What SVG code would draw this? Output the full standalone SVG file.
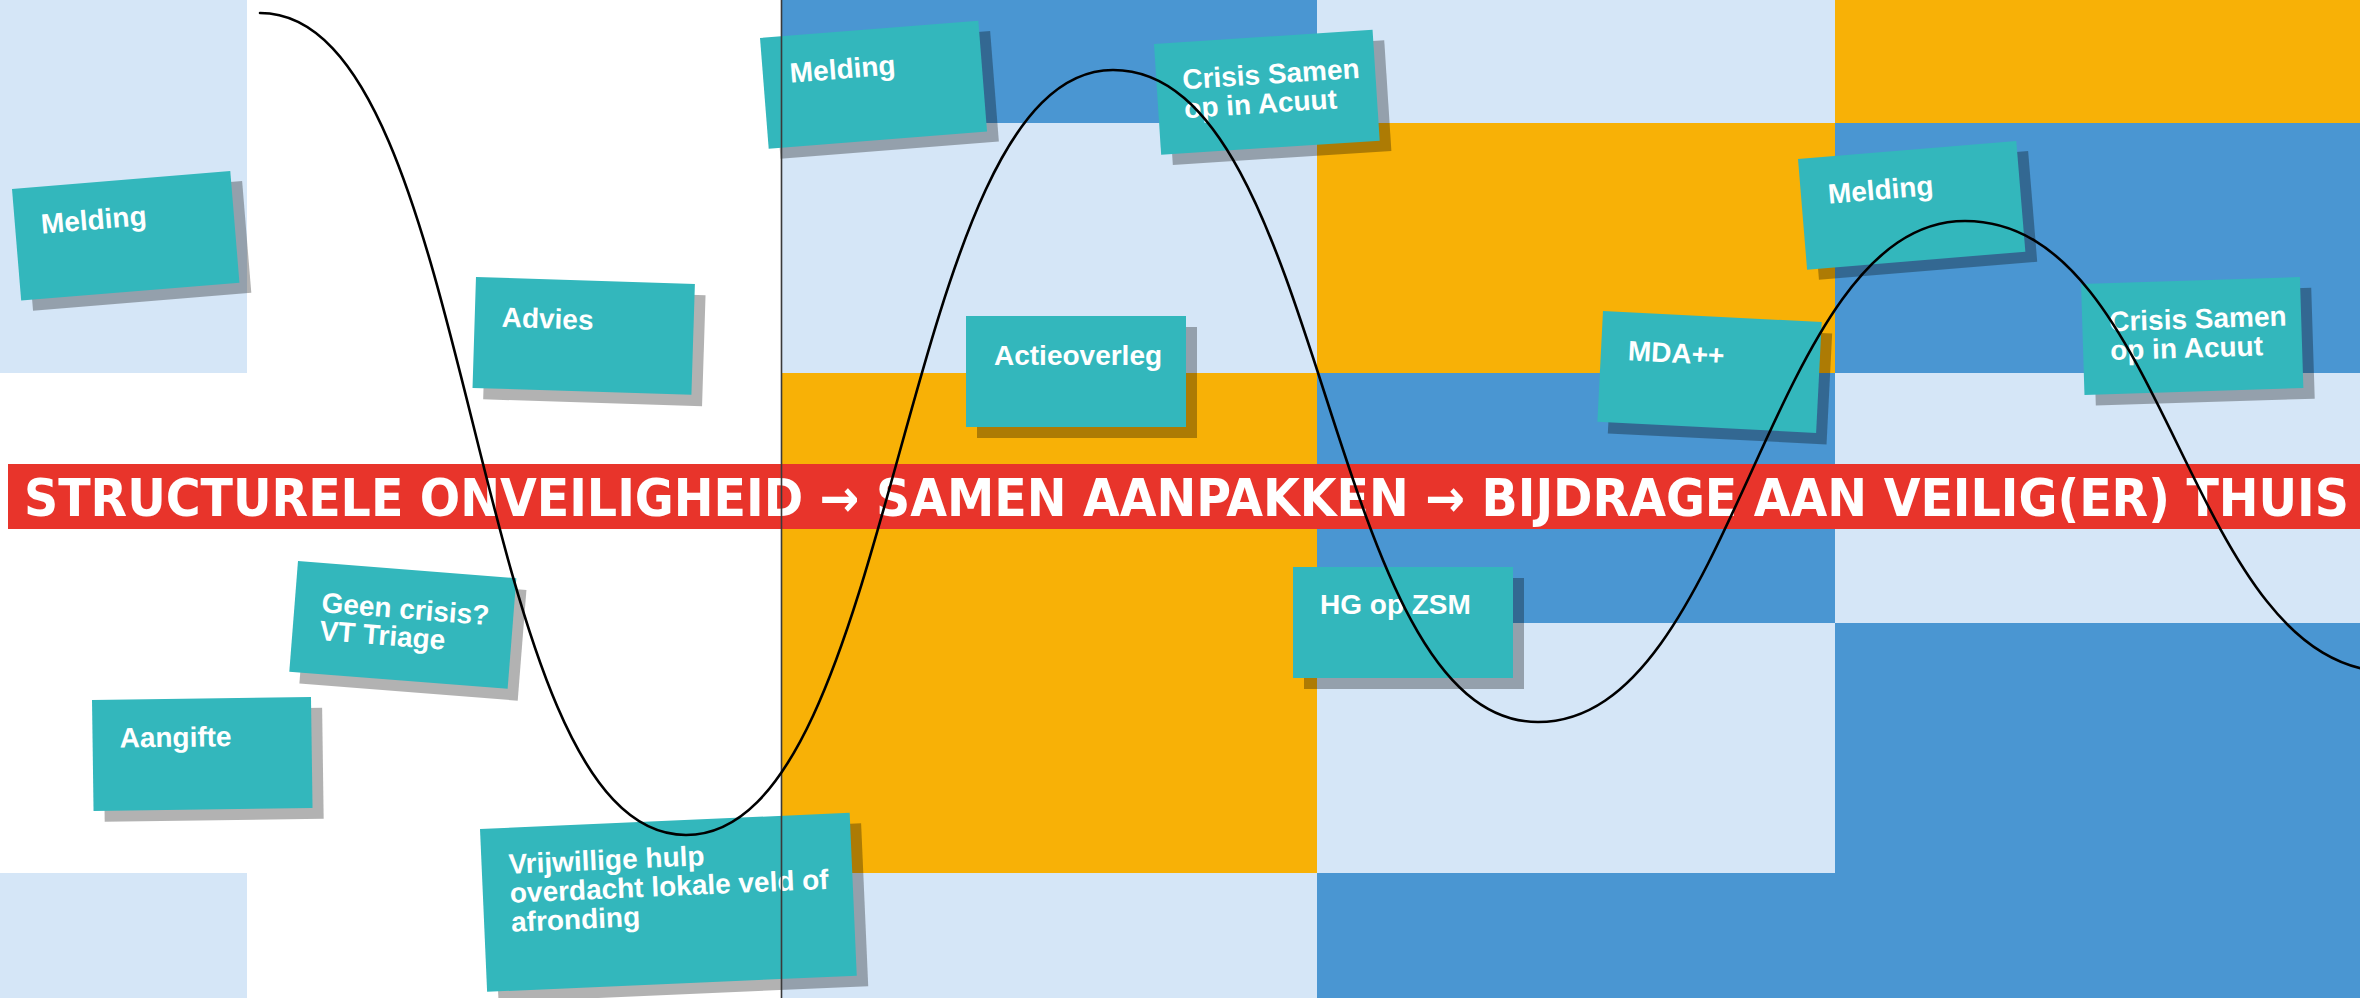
<svg xmlns="http://www.w3.org/2000/svg" width="2360" height="998" viewBox="0 0 2360 998">
<style>
.lb{fill:#D5E6F7}.bl{fill:#4A96D2}.or{fill:#F8B106}
.note{fill:#33B7BC}.shd{fill:#000;fill-opacity:0.3}
.nt{font-family:"Liberation Sans",Arial,sans-serif;font-weight:700;font-size:28px;fill:#fff}
.ban{font-family:"DejaVu Sans Condensed","Liberation Sans Narrow",sans-serif;font-weight:700;font-size:52px;fill:#fff}
</style>
<g id="background">
<rect x="0" y="0" width="2360" height="998" fill="#fff"/>
<rect class="lb" x="0" y="0" width="247" height="373"/>
<rect class="lb" x="0" y="873" width="247" height="125"/>
<rect class="bl" x="781" y="0" width="536" height="123"/>
<rect class="lb" x="781" y="123" width="536" height="250"/>
<rect class="or" x="781" y="373" width="536" height="500"/>
<rect class="lb" x="781" y="873" width="536" height="125"/>
<rect class="lb" x="1317" y="0" width="518" height="123"/>
<rect class="or" x="1317" y="123" width="518" height="250"/>
<rect class="bl" x="1317" y="373" width="518" height="250"/>
<rect class="lb" x="1317" y="623" width="518" height="250"/>
<rect class="bl" x="1317" y="873" width="518" height="125"/>
<rect class="or" x="1835" y="0" width="525" height="123"/>
<rect class="bl" x="1835" y="123" width="525" height="250"/>
<rect class="lb" x="1835" y="373" width="525" height="250"/>
<rect class="bl" x="1835" y="623" width="525" height="375"/>
</g>
<g id="banner">
<rect x="8" y="464" width="2352" height="65" fill="#E8342B"/>
<text class="ban" x="24" y="516" textLength="2325" lengthAdjust="spacingAndGlyphs">STRUCTURELE ONVEILIGHEID → SAMEN AANPAKKEN → BIJDRAGE AAN VEILIG(ER) THUIS</text>
</g>
<g id="note-melding-1" transform="translate(12 189) rotate(-4.7)">
<rect class="shd" x="11" y="11" width="219" height="112"/><rect class="note" width="219" height="112"/>
<text class="nt" x="26" y="47">Melding</text>
</g>
<g id="note-advies" transform="translate(476 277) rotate(1.8)">
<rect class="shd" x="11" y="11" width="219" height="111"/><rect class="note" width="219" height="111"/>
<text class="nt" x="27" y="49">Advies</text>
</g>
<g id="note-melding-2" transform="translate(760 38) rotate(-4.5)">
<rect class="shd" x="11" y="11" width="219" height="111"/><rect class="note" width="219" height="111"/>
<text class="nt" x="27" y="47">Melding</text>
</g>
<g id="note-crisis-1" transform="translate(1154 44) rotate(-3.7)">
<rect class="shd" x="11" y="11" width="219" height="111"/><rect class="note" width="219" height="111"/>
<text class="nt" x="26" y="47">Crisis Samen</text>
<text class="nt" x="26" y="76">op in Acuut</text>
</g>
<g id="note-actieoverleg" transform="translate(966 316)">
<rect class="shd" x="11" y="11" width="220" height="111"/><rect class="note" width="220" height="111"/>
<text class="nt" x="28" y="49">Actieoverleg</text>
</g>
<g id="note-melding-3" transform="translate(1798 159) rotate(-4.7)">
<rect class="shd" x="11" y="11" width="219" height="111"/><rect class="note" width="219" height="111"/>
<text class="nt" x="27" y="47">Melding</text>
</g>
<g id="note-mda" transform="translate(1603 311) rotate(2.9)">
<rect class="shd" x="11" y="11" width="219" height="111"/><rect class="note" width="219" height="111"/>
<text class="nt" x="27" y="48">MDA++</text>
</g>
<g id="note-crisis-2" transform="translate(2081 284) rotate(-1.8)">
<rect class="shd" x="11" y="11" width="219" height="111"/><rect class="note" width="219" height="111"/>
<text class="nt" x="27" y="48">Crisis Samen</text>
<text class="nt" x="27" y="77">op in Acuut</text>
</g>
<g id="note-hg" transform="translate(1293 567)">
<rect class="shd" x="11" y="11" width="220" height="111"/><rect class="note" width="220" height="111"/>
<text class="nt" x="27" y="47">HG op ZSM</text>
</g>
<g id="note-geen-crisis" transform="translate(298 561) rotate(4.5)">
<rect class="shd" x="11" y="11" width="219" height="111"/><rect class="note" width="219" height="111"/>
<text class="nt" x="27" y="49">Geen crisis?</text>
<text class="nt" x="27" y="77">VT Triage</text>
</g>
<g id="note-aangifte" transform="translate(92 700) rotate(-0.8)">
<rect class="shd" x="11" y="11" width="219" height="111"/><rect class="note" width="219" height="111"/>
<text class="nt" x="27" y="48">Aangifte</text>
</g>
<g id="note-vrijwillige" transform="translate(480 829) rotate(-2.5)">
<rect class="shd" x="11" y="11" width="370" height="163"/><rect class="note" width="370" height="163"/>
<text class="nt" x="27" y="46">Vrijwillige hulp</text>
<text class="nt" x="27" y="75">overdacht lokale veld of</text>
<text class="nt" x="27" y="104">afronding</text>
</g>
<g id="divider">
<line x1="781.5" y1="0" x2="781.5" y2="998" stroke="#3a3a3a" stroke-width="1.6"/>
</g>
<g id="connectors" fill="none" stroke="#000" stroke-width="2.6" stroke-linecap="round">
<path d="M260 13 C481 13 465 835 686 835 C901 835 898 70 1113 70 C1328 70 1323 722 1538 722 C1737 722 1766 221 1965 221 C2172 221 2185 672 2392 672"/>
</g>
</svg>
